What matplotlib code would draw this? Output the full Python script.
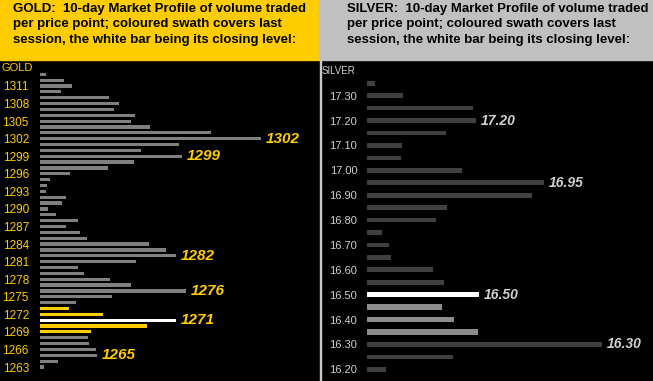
import numpy as np
import matplotlib
matplotlib.use("Agg")
from matplotlib import pyplot as plt
from matplotlib.patches import Rectangle

# GOLD: volume per price point (arbitrary units)
gold_prices = np.arange(1263, 1314)
gold_vol = [12, 54, 171, 168, 147, 144, 153, 321, 408, 189,
            87, 108, 216, 438, 273, 210, 132, 114, 288, 408,
            378, 327, 141, 120, 78, 114, 48, 24, 66, 78,
            18, 21, 30, 90, 204, 282, 426, 303, 417, 663,
            513, 330, 273, 285, 222, 237, 207, 63, 96, 72, 18]
gold_swath = [1269, 1270, 1272, 1273]
gold_close = 1271
gold_marks = [1302, 1299, 1282, 1276, 1271, 1265]
gold_ticks = list(range(1263, 1312, 3))

# SILVER
silver_prices = np.round(np.arange(16.20, 17.351, 0.05), 2)
silver_vol = [57, 258, 705, 333, 261, 225, 336, 231, 198, 72,
              66, 45, 207, 240, 495, 531, 285, 102, 105, 237,
              326, 318, 107, 24]
silver_swath = [16.35, 16.40, 16.45]
silver_close = 16.50
silver_marks = [17.20, 16.95, 16.50, 16.30]
silver_ticks = np.round(np.arange(16.20, 17.31, 0.10), 2)

W, H = 653, 381
fig = plt.figure(figsize=(W / 100, H / 100), dpi=100, facecolor="black")

def px_rect(x0, y0, x1, y1):
    # pixel box (top-left origin) -> figure fraction rect
    return [x0 / W, 1 - y1 / H, (x1 - x0) / W, (y1 - y0) / H]

# headers
fig.patches.append(Rectangle((0, 1 - 60 / H), 319 / W, 60 / H,
                             transform=fig.transFigure, color="#ffcc00", zorder=0))
fig.patches.append(Rectangle((319 / W, 1 - 60 / H), (W - 319) / W, 60 / H,
                             transform=fig.transFigure, color="#c0c0c0", zorder=0))
fig.patches.append(Rectangle((319.5 / W, 0), 1.5 / W, 1 - 60 / H,
                             transform=fig.transFigure, color="#c8c8c8", zorder=0))

hdr = "{}:  10-day Market Profile of volume traded\nper price point; coloured swath covers last\nsession, the white bar being its closing level:"
fig.text(13 / W, 1 - 3 / H, hdr.format("GOLD"), ha="left", va="top",
         fontsize=9.5, fontweight="bold", family="Liberation Sans",
         linespacing=1.38, color="black")
fig.text(347 / W, 1 - 3 / H, hdr.format("SILVER"), ha="left", va="top",
         fontsize=9.5, fontweight="bold", family="Liberation Sans",
         linespacing=1.38, color="black")

fig.text(2 / W, 1 - 68 / H, "GOLD", ha="left", va="center", fontsize=8,
         family="Liberation Sans", color="#ffcc00")
fig.text(322 / W, 1 - 71 / H, "SILVER", ha="left", va="center", fontsize=7,
         family="Liberation Sans", color="#d0d0d0")

# gold panel
ax = fig.add_axes(px_rect(40, 60, 319, 381))
ax.set_facecolor("black")
gcol = []
for p in gold_prices:
    if p == gold_close:
        gcol.append("white")
    elif p in gold_swath:
        gcol.append("#ffcc00")
    else:
        gcol.append("#808080")
ax.barh(gold_prices, gold_vol, height=0.55, color=gcol, left=0)
for p in gold_marks:
    v = gold_vol[list(gold_prices).index(p)]
    ax.text(v + 14, p, str(p), color="#ffcc00", fontsize=11, fontweight="bold",
            fontstyle="italic", family="Liberation Sans", va="center", ha="left")
ax.set_xlim(0, 837)
ax.set_ylim(1260.61, 1315.44)
ax.set_yticks(gold_ticks)
ax.set_yticklabels([str(t) for t in gold_ticks], family="Liberation Sans",
                   fontsize=8.5, color="#ffcc00")
ax.tick_params(axis="y", length=0, pad=8)
ax.set_xticks([])
for s in ax.spines.values():
    s.set_visible(False)

# silver panel
ax2 = fig.add_axes(px_rect(367, 60, 653, 381))
ax2.set_facecolor("black")
scol, sh = [], []
for p in silver_prices:
    if np.isclose(p, silver_close):
        scol.append("white"); sh.append(0.018)
    elif any(np.isclose(p, silver_swath)):
        scol.append("#8c8c8c"); sh.append(0.022)
    else:
        scol.append("#404040"); sh.append(0.019)
ax2.barh(silver_prices, silver_vol, height=sh, color=scol, left=0)
for p in silver_marks:
    i = int(np.argmin(np.abs(silver_prices - p)))
    ax2.text(silver_vol[i] + 14, p, "%.2f" % p, color="#d0d0d0", fontsize=10,
             fontweight="bold", fontstyle="italic", family="Liberation Sans",
             va="center", ha="left")
ax2.set_xlim(0, 858)
ax2.set_ylim(16.153, 17.4435)
ax2.set_yticks(silver_ticks)
ax2.set_yticklabels(["%.2f" % t for t in silver_ticks], family="Liberation Sans",
                    fontsize=8, color="#d0d0d0")
ax2.tick_params(axis="y", length=0, pad=7)
ax2.set_xticks([])
for s in ax2.spines.values():
    s.set_visible(False)

fig.savefig("out.png", dpi=100, facecolor="black")
